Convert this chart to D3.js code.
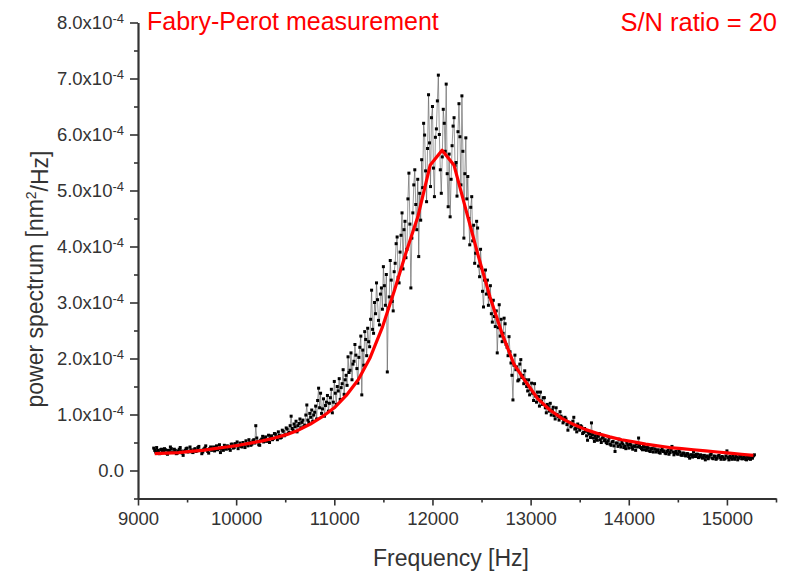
<!DOCTYPE html>
<html>
<head>
<meta charset="utf-8">
<script src="https://cdn.jsdelivr.net/npm/d3@7"></script>
<style>
body { margin: 0; background: #fff; }
text { font-family: "Liberation Sans", Arial, sans-serif; }
</style>
</head>
<body>
<script>
// measured power spectrum, values in units of 1e-4 nm^2/Hz, sampled every 10 Hz from 9160 Hz
let freqStart = 9160
let freqStep = 10
let power = [
  0.40,0.36,0.33,0.41,0.36,0.32,0.30,0.37,0.38,0.33,0.34,0.39,0.37,0.31,0.29,0.36,0.35,0.42,0.39,0.33,
  0.32,0.38,0.36,0.30,0.31,0.35,0.38,0.41,0.35,0.31,0.27,0.34,0.36,0.39,0.40,0.33,0.34,0.42,0.37,0.33,
  0.32,0.37,0.39,0.34,0.35,0.41,0.43,0.36,0.36,0.30,0.33,0.38,0.40,0.44,0.37,0.34,0.31,0.39,0.42,0.36,
  0.38,0.42,0.35,0.40,0.44,0.37,0.39,0.46,0.32,0.38,0.41,0.36,0.45,0.40,0.38,0.44,0.43,0.39,0.36,0.47,
  0.47,0.40,0.41,0.48,0.45,0.51,0.39,0.44,0.49,0.43,0.42,0.50,0.46,0.41,0.53,0.47,0.44,0.55,0.50,0.45,
  0.47,0.53,0.55,0.49,0.80,0.58,0.52,0.46,0.45,0.54,0.56,0.61,0.51,0.57,0.60,0.52,0.54,0.63,0.50,0.58,
  0.62,0.55,0.57,0.66,0.65,0.60,0.55,0.69,0.63,0.58,0.59,0.72,0.70,0.62,0.64,0.76,0.74,0.66,0.68,0.80,
  0.97,0.75,0.72,0.83,0.78,0.88,0.69,0.80,0.84,0.92,0.76,0.86,0.90,0.79,0.81,0.99,1.17,0.90,0.86,1.02,
  0.95,1.08,0.88,0.99,1.04,1.15,0.92,1.25,1.47,1.12,1.38,1.02,1.10,1.28,0.97,1.16,1.22,1.34,1.06,1.20,
  1.30,1.45,1.03,1.22,1.59,1.38,1.18,1.50,1.42,1.64,1.27,1.48,1.55,1.80,1.36,1.62,1.70,1.52,2.03,1.75,
  1.79,2.10,1.62,1.90,1.95,2.25,2.06,1.82,1.56,2.02,2.20,2.40,1.35,2.15,1.88,2.48,2.34,2.05,2.54,2.30,
  2.21,2.70,3.22,2.52,2.45,3.00,2.80,3.35,3.05,2.68,2.60,3.15,3.26,2.88,3.64,3.30,2.95,3.50,1.76,2.90,
  3.10,3.75,3.40,3.02,2.85,3.55,3.70,4.05,4.17,3.45,3.35,3.90,4.20,4.60,3.60,4.30,4.45,3.80,3.95,4.85,
  5.31,4.40,3.26,4.15,4.60,5.10,5.37,4.75,4.30,5.20,3.82,4.95,4.47,5.55,5.05,6.20,5.99,5.35,4.80,5.75,
  6.71,5.85,5.07,6.30,6.50,5.40,4.89,5.95,6.10,6.60,7.06,6.00,5.37,4.95,5.60,6.45,6.20,5.70,6.90,5.30,
  4.71,5.65,4.53,5.20,5.80,6.15,6.30,5.45,5.50,4.90,6.05,6.55,5.96,5.10,6.69,5.70,4.15,5.30,5.94,4.85,
  5.25,4.50,4.03,4.70,4.89,4.10,4.38,3.70,3.88,4.45,4.33,3.65,3.46,3.95,3.62,3.20,2.92,3.40,3.58,3.15,
  3.40,2.95,3.10,3.30,2.80,2.65,3.04,2.75,2.57,2.85,2.10,2.55,2.96,2.40,2.70,2.30,2.45,2.72,2.62,2.25,
  2.20,2.05,2.39,2.12,1.92,1.70,1.26,1.88,2.06,1.80,1.85,1.60,1.62,1.90,1.98,1.66,1.70,1.55,1.78,1.62,
  1.50,1.42,1.62,1.35,1.45,1.56,1.38,1.25,1.55,1.33,1.22,1.40,1.32,1.15,1.40,1.24,1.18,1.30,1.30,1.12,
  1.03,1.18,1.14,1.06,1.20,0.99,1.08,1.13,0.98,0.92,1.12,1.00,0.96,0.90,1.05,0.97,0.94,0.85,0.88,0.95,
  0.92,0.82,0.72,0.86,0.85,0.78,0.80,0.88,0.95,0.74,0.75,0.69,0.83,0.77,0.72,0.80,0.78,0.66,0.68,0.75,
  0.70,0.62,0.54,0.68,0.65,0.59,0.85,0.64,0.58,0.52,0.62,0.57,0.54,0.61,0.66,0.55,0.50,0.58,0.60,0.53,
  0.55,0.50,0.48,0.53,0.58,0.47,0.45,0.51,0.52,0.44,0.34,0.49,0.49,0.43,0.56,0.46,0.42,0.50,0.47,0.41,
  0.44,0.39,0.50,0.45,0.40,0.47,0.46,0.41,0.38,0.44,0.43,0.36,0.48,0.42,0.58,0.45,0.41,0.39,0.37,0.43,
  0.42,0.37,0.36,0.41,0.40,0.35,0.34,0.39,0.39,0.33,0.44,0.38,0.33,0.36,0.37,0.32,0.31,0.36,0.38,0.34,
  0.35,0.31,0.30,0.34,0.36,0.29,0.32,0.37,0.43,0.33,0.28,0.32,0.34,0.30,0.29,0.35,0.33,0.28,0.27,0.31,
  0.31,0.27,0.26,0.30,0.30,0.25,0.22,0.28,0.28,0.24,0.33,0.27,0.25,0.29,0.29,0.23,0.24,0.28,0.27,0.22,
  0.23,0.27,0.19,0.24,0.26,0.21,0.24,0.28,0.29,0.22,0.21,0.26,0.25,0.20,0.22,0.26,0.27,0.23,0.20,0.25,
  0.24,0.20,0.21,0.26,0.35,0.23,0.19,0.25,0.23,0.20,0.26,0.22,0.20,0.25,0.24,0.19,0.22,0.27,0.25,0.21,
  0.21,0.25,0.23,0.20,0.19,0.24,0.24,0.21,0.20,0.23,0.22,0.26,0.28
]

// fitted curve (red)
let fitFreq = [9170,9292,9414,9536,9658,9780,9902,10024,10146,10268,
  10390,10512,10634,10756,10878,11000,11122,11244,11366,11488,
  11610,11732,11854,11976,12098,12220,12342,12464,12586,12708,
  12830,12952,13074,13196,13318,13440,13562,13684,13806,13928,
  14050,14172,14294,14416,14538,14660,14782,14904,15026,15148,15270]
let fitPower = [0.30,0.31,0.32,0.34,0.36,0.39,0.42,0.45,0.49,0.53,
  0.58,0.64,0.72,0.83,0.96,1.12,1.34,1.62,2.02,2.55,
  3.20,3.90,4.55,5.45,5.72,5.45,4.65,3.85,3.10,2.45,
  1.90,1.58,1.28,1.08,0.93,0.82,0.73,0.66,0.60,0.55,
  0.51,0.47,0.44,0.41,0.39,0.37,0.35,0.33,0.31,0.29,0.27]

let xMajor = [9000,10000,11000,12000,13000,14000,15000]
let xMinor = [9500,10500,11500,12500,13500,14500,15500]
let yMajor = [0,1,2,3,4,5,6,7,8]
let yMinor = [-0.5,0.5,1.5,2.5,3.5,4.5,5.5,6.5,7.5]

let w = 789
let h = 573
let axisColor = "#333"

let svg = d3.select("body").append("svg")
  .attr("width", w)
  .attr("height", h)

let xScale = d3.scaleLinear().domain([9000, 15500]).range([138, 776])
let yScale = d3.scaleLinear().domain([-0.5, 8]).range([498.5, 22.5])

let points = power.map((v, i) => ({f: freqStart + i*freqStep, p: v}))
let fit = fitFreq.map((f, i) => ({f: f, p: fitPower[i]}))

// minor ticks
let xMinorAxis = d3.axisBottom(xScale).tickValues(xMinor).tickSize(4).tickFormat("")
svg.append("g").attr("transform", "translate(0,498.5)").call(xMinorAxis)
  .call(g => g.select(".domain").remove())
let yMinorAxis = d3.axisLeft(yScale).tickValues(yMinor).tickSize(4).tickFormat("")
svg.append("g").attr("transform", "translate(138,0)").call(yMinorAxis)
  .call(g => g.select(".domain").remove())

let xAxis = d3.axisBottom(xScale).tickValues(xMajor).tickSize(7).tickSizeOuter(0).tickPadding(6)
  .tickFormat(d3.format("d"))
svg.append("g").attr("id", "x-axis").attr("transform", "translate(0,498.5)").call(xAxis)

let yAxis = d3.axisLeft(yScale).tickValues(yMajor).tickSize(8).tickSizeOuter(0).tickPadding(6)
  .tickFormat(d => d === 0 ? "0.0" : d + ".0x10")
let gy = svg.append("g").attr("id", "y-axis").attr("transform", "translate(138,0)").call(yAxis)

svg.selectAll(".tick line").attr("stroke", axisColor).attr("stroke-width", 1.6)
svg.selectAll(".domain").attr("stroke", axisColor).attr("stroke-width", 2.2)
svg.selectAll(".tick text").attr("fill", "#333").attr("font-size", 18.5)
  .attr("font-family", "'Liberation Sans', Arial, sans-serif")

gy.selectAll(".tick text").filter(d => d !== 0)
  .append("tspan").attr("dy", "-0.45em").attr("font-size", 13).text("-4")

// data: thin connecting line + square markers
let line = d3.line().x(d => xScale(d.f)).y(d => yScale(d.p))
svg.append("path").datum(points)
  .attr("d", line)
  .attr("fill", "none")
  .attr("stroke", "#555")
  .attr("stroke-width", 0.6)

svg.selectAll("rect.pt")
  .data(points)
  .enter()
  .append("rect")
  .attr("class", "pt")
  .attr("x", d => xScale(d.f) - 1.5)
  .attr("y", d => yScale(d.p) - 1.5)
  .attr("width", 3)
  .attr("height", 3)
  .attr("fill", "#000")

svg.append("path").datum(fit)
  .attr("d", line)
  .attr("fill", "none")
  .attr("stroke", "#ff0000")
  .attr("stroke-width", 3.2)
  .attr("stroke-linejoin", "round")

// texts
svg.append("text")
  .text("Fabry-Perot measurement")
  .attr("x", 147)
  .attr("y", 30)
  .attr("fill", "#ff0000")
  .attr("font-size", 25)

svg.append("text")
  .text("S/N ratio = 20")
  .attr("x", 777)
  .attr("y", 31)
  .attr("text-anchor", "end")
  .attr("fill", "#ff0000")
  .attr("font-size", 25.5)

svg.append("text")
  .text("Frequency [Hz]")
  .attr("x", 451)
  .attr("y", 566)
  .attr("text-anchor", "middle")
  .attr("fill", "#333")
  .attr("font-size", 23)

let ylab = svg.append("text")
  .attr("transform", "translate(43,279) rotate(-90)")
  .attr("text-anchor", "middle")
  .attr("fill", "#333")
  .attr("font-size", 23)
ylab.append("tspan").text("power spectrum [nm")
ylab.append("tspan").attr("dy", "-0.5em").attr("font-size", 14).text("2")
ylab.append("tspan").attr("dy", "0.5em").text("/Hz]")
</script>
</body>
</html>
